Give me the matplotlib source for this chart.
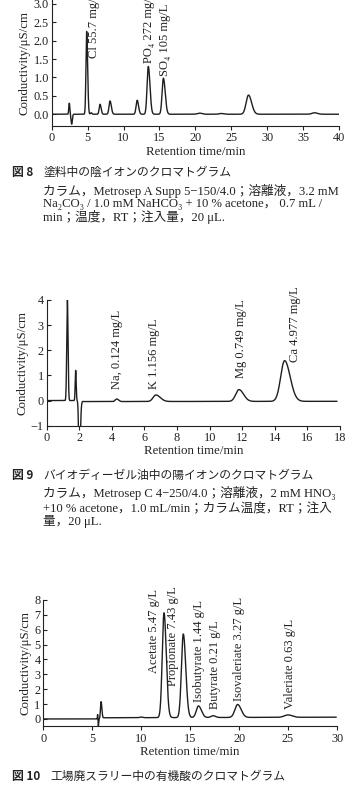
import numpy as np
import matplotlib
matplotlib.use("Agg")
import matplotlib.pyplot as plt
from matplotlib.ticker import FormatStrFormatter

plt.rcParams['font.family'] = ['Liberation Serif', 'Noto Sans CJK JP', 'DejaVu Serif']
plt.rcParams['axes.unicode_minus'] = True

# ---------------- Fig. 8 : anions in paint ----------------
p1_time   = [2.45, 2.78, 4.87, 5.50, 6.73, 8.12, 11.90, 13.45, 15.55, 20.6, 23.6, 27.40, 36.6]
p1_height = [0.30, -0.27, 2.25, 0.04, 0.27, 0.36, 0.38, 1.30, 0.98, 0.03, 0.02, 0.52, 0.04]
p1_sig_l  = [0.07, 0.08, 0.10, 0.10, 0.12, 0.14, 0.15, 0.17, 0.18, 0.30, 0.30, 0.33, 0.35]
p1_sig_r  = [0.07, 0.09, 0.13, 0.10, 0.15, 0.18, 0.19, 0.23, 0.25, 0.30, 0.30, 0.43, 0.40]
p1_base_t = [0, 39.9]
p1_base_y = [0.0, 0.0]
p1_labels = ["Cl 55.7 mg/L", "PO\u2084 272 mg/L", "SO\u2084 105 mg/L"]
p1_lab_x  = [5.9, 13.5, 15.8]
p1_lab_y  = [1.53, 1.39, 1.04]
p1_xticks = [0, 5, 10, 15, 20, 25, 30, 35, 40]
p1_yticks = [0.0, 0.5, 1.0, 1.5, 2.0, 2.5, 3.0]

# ---------------- Fig. 9 : cations in biodiesel ----------------
p2_time   = [1.27, 1.78, 2.00, 4.30, 6.70, 11.80, 14.60]
p2_height = [4.00, 1.20, -2.60, 0.10, 0.26, 0.47, 1.62]
p2_sig_l  = [0.04, 0.03, 0.04, 0.09, 0.17, 0.20, 0.24]
p2_sig_r  = [0.04, 0.03, 0.06, 0.11, 0.27, 0.28, 0.34]
p2_base_t = [0, 1.9, 2.3, 17.8]
p2_base_y = [0.0, 0.0, -0.04, -0.03]
p2_labels = ["Na, 0.124 mg/L", "K 1.156 mg/L", "Mg 0.749 mg/L", "Ca 4.977 mg/L"]
p2_lab_x  = [4.3, 6.59, 11.9, 15.24]
p2_lab_y  = [0.47, 0.47, 0.88, 1.53]
p2_xticks = [0, 2, 4, 6, 8, 10, 12, 14, 16, 18]
p2_yticks = [-1, 0, 1, 2, 3, 4]

# ---------------- Fig. 10 : organic acids in slurry ----------------
p3_time   = [5.55, 5.62, 5.90, 10.0, 12.33, 14.30, 15.85, 17.35, 19.85, 25.0]
p3_height = [0.30, -0.50, 1.12, 0.04, 7.05, 5.62, 0.78, 0.12, 0.87, 0.16]
p3_sig_l  = [0.025, 0.025, 0.06, 0.15, 0.18, 0.19, 0.22, 0.22, 0.28, 0.38]
p3_sig_r  = [0.025, 0.035, 0.08, 0.15, 0.23, 0.25, 0.30, 0.24, 0.36, 0.42]
p3_base_t = [0, 5.5, 6.2, 29.9]
p3_base_y = [0.0, 0.0, 0.08, 0.12]
p3_labels = ["Acetate 5.47 g/L", "Propionate 7.43 g/L", "Isobutyrate 1.44 g/L",
             "Butyrate 0.21 g/L", "Isovaleriate 3.27 g/L", "Valeriate 0.63 g/L"]
p3_lab_x  = [11.3, 13.28, 15.9, 17.54, 20.02, 25.2]
p3_lab_y  = [3.07, 2.2, 1.16, 0.67, 1.23, 0.67]
p3_xticks = [0, 5, 10, 15, 20, 25, 30]
p3_yticks = [0, 1, 2, 3, 4, 5, 6, 7, 8]

W, H = 354, 791
fig = plt.figure(figsize=(W / 100, H / 100), dpi=100)

def axes_px(left, right, top, bottom):
    return fig.add_axes([left / W, 1 - bottom / H, (right - left) / W, (bottom - top) / H])

def trace(times, heights, sl, sr, bt, by):
    t = np.linspace(bt[0], bt[-1], 6000)
    y = np.interp(t, bt, by)
    for t0, h, a, b in zip(times, heights, sl, sr):
        s = np.where(t < t0, a, b)
        y = y + h * np.exp(-0.5 * ((t - t0) / s) ** 2)
    return t, y

def style(ax, xlim, ylim, xt, yt, fmt=None):
    ax.set_xlim(*xlim)
    ax.set_ylim(*ylim)
    ax.set_xticks(xt)
    ax.set_yticks(yt)
    if fmt:
        ax.yaxis.set_major_formatter(FormatStrFormatter(fmt))
    for s in ['top', 'right']:
        ax.spines[s].set_visible(False)
    for s in ['left', 'bottom']:
        ax.spines[s].set_linewidth(0.8)
        ax.spines[s].set_color('#222222')
    ax.tick_params(axis='x', direction='out', length=3, width=0.8, pad=1.5,
                   labelsize=8.8, colors='#222222')
    ax.tick_params(axis='y', direction='in', length=3, width=0.8, pad=2,
                   labelsize=8.8, colors='#222222')
    ax.set_xlabel("Retention time/min", fontsize=9.3, labelpad=1, color='#222222')
    ax.set_ylabel("Conductivity/\u03bcS/cm", fontsize=9.3, labelpad=2, color='#222222')

line_kw = dict(color='#1e1e1e', lw=1.0)
lab_kw = dict(rotation=90, ha='center', va='bottom', fontsize=9, color='#222222')

# Panel 1
ax1 = axes_px(51.7, 339, 0.2, 126)
t, y = trace(p1_time, p1_height, p1_sig_l, p1_sig_r, p1_base_t, p1_base_y)
ax1.plot(t, y, **line_kw)
style(ax1, (0, 40), (-0.32, 3.1), p1_xticks, p1_yticks, '%.1f')
for s, x, yy in zip(p1_labels, p1_lab_x, p1_lab_y):
    ax1.text(x, yy, s, clip_on=False, **lab_kw)

# Panel 2
ax2 = axes_px(46.7, 340, 300, 425.7)
t, y = trace(p2_time, p2_height, p2_sig_l, p2_sig_r, p2_base_t, p2_base_y)
ax2.plot(t, y, **line_kw)
style(ax2, (0, 18), (-1, 4), p2_xticks, p2_yticks)
for s, x, yy in zip(p2_labels, p2_lab_x, p2_lab_y):
    ax2.text(x, yy, s, **lab_kw)

# Panel 3
ax3 = axes_px(43.3, 337, 600, 726.4)
t, y = trace(p3_time, p3_height, p3_sig_l, p3_sig_r, p3_base_t, p3_base_y)
ax3.plot(t, y, **line_kw)
style(ax3, (0, 30), (-0.5, 8), p3_xticks, p3_yticks)
for s, x, yy in zip(p3_labels, p3_lab_x, p3_lab_y):
    ax3.text(x, yy, s, **lab_kw)

# Captions
cap_col = '#222222'
def ftext(xp, yp, s, **kw):
    fig.text(xp / W, 1 - yp / H, s, va='center', ha='left', color=cap_col, **kw)

jp = ['Noto Sans CJK JP', 'DejaVu Sans']
body = ['Liberation Serif', 'Noto Sans CJK JP', 'DejaVu Serif']
bs = 9.1

ftext(12, 172.7, "図 8", family=jp, fontsize=8.5, fontweight='bold')
ftext(43.3, 172.7, "塗料中の陰イオンのクロマトグラム", family=jp, fontsize=8.5)
ftext(43.3, 190.7, "カラム，Metrosep A Supp 5\u2212150/4.0；溶離液，3.2 mM", family=body, fontsize=bs)
ftext(43.3, 204.0, "Na\u2082CO\u2083 / 1.0 mM NaHCO\u2083 + 10 % acetone， 0.7 mL /", family=body, fontsize=bs)
ftext(43.3, 217.3, "min；温度，RT；注入量，20 \u03bcL.", family=body, fontsize=bs)

ftext(12, 475.0, "図 9", family=jp, fontsize=8.5, fontweight='bold')
ftext(43.3, 475.0, "バイオディーゼル油中の陽イオンのクロマトグラム", family=jp, fontsize=8.5)
ftext(43.3, 493.3, "カラム，Metrosep C 4\u2212250/4.0；溶離液，2 mM HNO\u2083", family=body, fontsize=bs)
ftext(43.3, 507.7, "+10 % acetone，1.0 mL/min；カラム温度，RT；注入", family=body, fontsize=bs)
ftext(43.3, 521.0, "量，20 \u03bcL.", family=body, fontsize=bs)

ftext(12, 776.7, "図 10", family=jp, fontsize=8.5, fontweight='bold')
ftext(50.0, 776.7, "工場廃スラリー中の有機酸のクロマトグラム", family=jp, fontsize=8.5)

fig.savefig("out.png", dpi=100, facecolor='white')
